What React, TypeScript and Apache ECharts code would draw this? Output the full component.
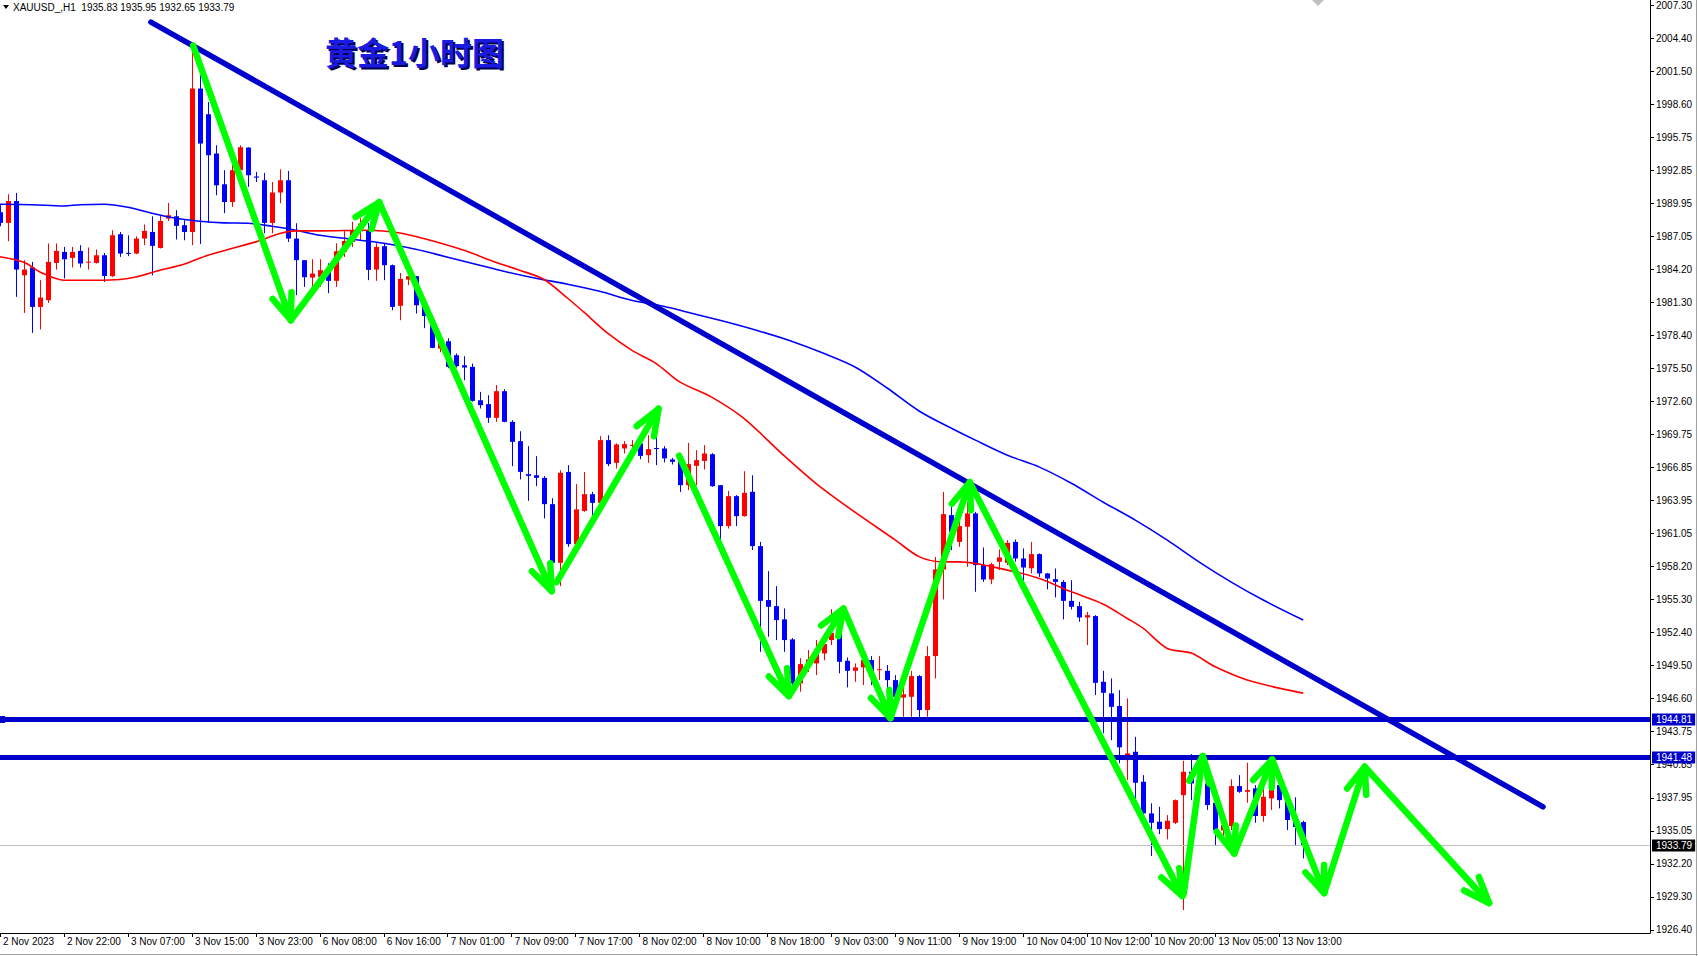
import React, { useEffect, useRef } from 'react';
import * as echarts from 'echarts';

// ---- candle data (H1, bar 0 = 2 Nov 14:00) ----
const opens = [
  1989.17, 1988.24, 1990.16, 1983.66, 1984.34, 1980.89, 1981.48, 1984.74, 1985.70, 1985.18,
  1985.79, 1984.80, 1984.74, 1985.41, 1983.58, 1987.25, 1985.62, 1985.56, 1986.87, 1987.45,
  1986.05, 1988.62, 1988.82, 1988.04, 1987.45, 1999.99, 1997.74, 1994.31, 1991.62, 1990.07,
  1992.85, 1994.83, 1992.30, 1991.97, 1988.24, 1990.90, 1991.97, 1986.87, 1984.98, 1983.46,
  1983.52, 1984.04, 1983.17, 1985.70, 1986.57, 1987.51, 1987.60, 1984.16, 1986.20, 1984.54,
  1980.99, 1983.28, 1983.58, 1981.04, 1979.29, 1977.25, 1977.89, 1976.67, 1975.79, 1975.65,
  1972.73, 1972.39, 1971.19, 1973.52, 1970.84, 1969.15, 1966.26, 1966.17, 1965.94, 1963.64,
  1958.51, 1966.46, 1960.14, 1963.05, 1964.51, 1963.75, 1969.24, 1967.25, 1968.51, 1968.78,
  1968.95, 1967.92, 1968.55, 1968.51, 1967.55, 1967.34, 1965.30, 1966.99, 1967.42, 1968.01,
  1965.30, 1961.72, 1964.34, 1962.59, 1964.72, 1959.97, 1955.25, 1954.72, 1953.56, 1951.81,
  1947.96, 1949.62, 1949.71, 1950.58, 1951.75, 1952.33, 1949.94, 1949.06, 1949.36, 1950.00,
  1949.15, 1949.06, 1948.25, 1946.72, 1946.79, 1948.60, 1945.63, 1950.35, 1957.93, 1962.68,
  1960.34, 1961.66, 1962.83, 1958.31, 1957.05, 1958.60, 1958.51, 1960.34, 1958.89, 1958.03,
  1959.27, 1957.58, 1957.08, 1956.84, 1955.18, 1954.72, 1953.73, 1953.85, 1948.10, 1947.09,
  1945.98, 1941.25, 1941.98, 1939.36, 1936.59, 1935.86, 1935.22, 1935.77, 1938.19, 1940.23,
  1939.60, 1939.21, 1937.52, 1935.10, 1935.48, 1938.98, 1938.48, 1938.78, 1936.36, 1937.90,
  1939.07, 1937.75, 1936.10, 1935.83
];
const highs = [
  1989.79, 1990.75, 1990.86, 1984.98, 1984.83, 1983.23, 1986.44, 1986.44, 1986.14, 1986.14,
  1986.29, 1986.09, 1985.91, 1985.61, 1987.60, 1987.45, 1987.16, 1987.07, 1988.10, 1988.82,
  1988.91, 1989.99, 1989.35, 1988.47, 2003.92, 2001.15, 1998.82, 1995.03, 1992.85, 1993.57,
  1995.03, 1994.86, 1992.70, 1992.61, 1991.82, 1992.93, 1992.78, 1988.21, 1984.98, 1985.06,
  1985.06, 1984.71, 1986.46, 1987.60, 1988.33, 1988.65, 1988.24, 1986.46, 1986.46, 1984.60,
  1983.86, 1983.60, 1983.60, 1981.10, 1980.08, 1978.15, 1978.15, 1976.82, 1976.58, 1975.94,
  1973.46, 1973.17, 1974.05, 1973.70, 1970.98, 1970.02, 1968.71, 1967.84, 1966.09, 1964.16,
  1966.61, 1967.05, 1965.39, 1966.46, 1964.72, 1969.59, 1969.67, 1968.95, 1969.15, 1969.24,
  1969.24, 1969.67, 1969.53, 1968.71, 1967.69, 1967.92, 1969.00, 1968.36, 1968.80, 1968.10,
  1965.30, 1964.80, 1964.43, 1966.52, 1966.17, 1960.34, 1957.78, 1956.47, 1954.52, 1951.92,
  1950.17, 1950.87, 1951.75, 1952.18, 1954.46, 1953.06, 1950.23, 1949.71, 1950.29, 1950.35,
  1950.35, 1949.56, 1948.69, 1947.81, 1949.06, 1948.69, 1951.22, 1959.03, 1964.71, 1963.55,
  1963.40, 1963.84, 1962.97, 1959.85, 1958.51, 1959.68, 1960.49, 1960.55, 1959.77, 1960.34,
  1959.33, 1957.63, 1958.02, 1956.99, 1956.99, 1955.10, 1954.22, 1953.93, 1949.06, 1948.40,
  1947.37, 1946.65, 1943.29, 1939.94, 1937.47, 1937.17, 1936.44, 1937.81, 1941.19, 1941.78,
  1940.40, 1939.50, 1937.75, 1936.20, 1939.57, 1939.94, 1941.02, 1939.07, 1938.87, 1940.14,
  1939.50, 1937.90, 1938.00, 1935.95
];
const lows = [
  1987.95, 1986.64, 1981.77, 1980.37, 1978.62, 1978.92, 1981.24, 1984.16, 1983.38, 1984.34,
  1984.34, 1984.16, 1984.69, 1983.08, 1983.52, 1985.27, 1985.33, 1985.50, 1986.29, 1983.66,
  1986.00, 1988.41, 1986.79, 1986.72, 1986.29, 1986.40, 1988.24, 1990.66, 1989.09, 1989.64,
  1992.41, 1991.39, 1991.82, 1987.34, 1987.34, 1989.96, 1986.57, 1981.92, 1982.64, 1982.09,
  1982.64, 1982.09, 1982.64, 1985.27, 1986.14, 1986.72, 1983.23, 1983.17, 1983.23, 1980.60,
  1979.73, 1982.79, 1980.31, 1979.03, 1977.28, 1976.93, 1975.53, 1975.59, 1974.48, 1972.60,
  1972.01, 1970.75, 1970.84, 1970.80, 1966.96, 1965.80, 1963.93, 1965.21, 1962.39, 1958.45,
  1956.47, 1959.91, 1959.91, 1962.97, 1962.59, 1963.70, 1966.96, 1966.76, 1968.07, 1968.36,
  1967.57, 1967.25, 1967.05, 1967.29, 1967.11, 1964.71, 1964.86, 1965.30, 1966.67, 1965.15,
  1959.33, 1961.51, 1961.72, 1962.55, 1959.62, 1950.72, 1952.04, 1951.75, 1950.72, 1947.23,
  1947.23, 1948.95, 1948.69, 1949.99, 1951.31, 1948.84, 1947.61, 1948.10, 1947.81, 1947.81,
  1948.25, 1947.37, 1946.06, 1945.04, 1945.04, 1944.90, 1945.04, 1948.40, 1955.31, 1959.62,
  1959.91, 1958.16, 1955.97, 1956.84, 1956.64, 1957.87, 1958.31, 1958.60, 1956.93, 1957.58,
  1957.28, 1956.18, 1955.48, 1953.56, 1954.43, 1953.35, 1951.31, 1946.94, 1943.59, 1942.99,
  1940.97, 1939.50, 1937.03, 1935.99, 1932.86, 1934.78, 1934.32, 1935.66, 1928.14, 1937.75,
  1938.40, 1936.90, 1933.82, 1934.60, 1935.13, 1938.39, 1937.52, 1935.77, 1935.86, 1936.88,
  1937.03, 1935.13, 1933.82, 1932.65
];
const closes = [
  1988.24, 1990.16, 1984.16, 1984.16, 1980.89, 1981.71, 1984.83, 1985.79, 1985.06, 1985.70,
  1984.69, 1984.85, 1985.41, 1983.60, 1987.16, 1985.56, 1985.56, 1986.87, 1987.54, 1986.23,
  1988.41, 1988.91, 1987.98, 1987.45, 1999.99, 1995.18, 1994.16, 1991.53, 1990.07, 1992.85,
  1994.86, 1992.41, 1992.20, 1988.24, 1990.90, 1991.97, 1986.87, 1984.98, 1983.49, 1983.81,
  1984.10, 1983.17, 1985.76, 1986.66, 1987.60, 1988.18, 1984.13, 1986.14, 1984.54, 1980.89,
  1983.34, 1983.58, 1981.04, 1980.10, 1977.31, 1977.83, 1975.65, 1975.71, 1975.59, 1972.67,
  1972.30, 1971.19, 1973.52, 1970.84, 1969.09, 1966.46, 1966.11, 1965.94, 1963.64, 1958.51,
  1966.38, 1960.14, 1963.18, 1964.51, 1963.75, 1969.24, 1967.14, 1968.86, 1968.89, 1968.82,
  1967.86, 1968.45, 1968.48, 1967.64, 1967.34, 1965.30, 1967.14, 1967.49, 1968.07, 1965.21,
  1961.72, 1964.34, 1962.59, 1964.63, 1959.97, 1955.18, 1954.66, 1953.50, 1951.75, 1947.96,
  1949.65, 1950.06, 1950.61, 1951.40, 1952.39, 1949.85, 1949.06, 1949.36, 1950.00, 1948.84,
  1949.20, 1948.25, 1946.79, 1947.01, 1948.60, 1945.63, 1950.35, 1957.93, 1962.77, 1961.22,
  1961.72, 1962.83, 1958.31, 1957.05, 1958.39, 1958.98, 1960.25, 1958.89, 1958.10, 1959.27,
  1957.58, 1957.14, 1956.84, 1955.18, 1954.66, 1953.73, 1953.93, 1948.01, 1947.14, 1945.91,
  1942.37, 1941.84, 1939.27, 1936.59, 1935.77, 1935.22, 1935.95, 1937.75, 1940.23, 1939.21,
  1939.20, 1937.32, 1935.13, 1935.57, 1938.98, 1938.48, 1938.63, 1936.36, 1938.04, 1939.07,
  1937.75, 1936.01, 1935.40, 1933.79
];

// ---- axes ----
const xLabels = [
  '2 Nov 2023', '2 Nov 22:00', '3 Nov 07:00', '3 Nov 15:00', '3 Nov 23:00', '6 Nov 08:00',
  '6 Nov 16:00', '7 Nov 01:00', '7 Nov 09:00', '7 Nov 17:00', '8 Nov 02:00', '8 Nov 10:00',
  '8 Nov 18:00', '9 Nov 03:00', '9 Nov 11:00', '9 Nov 19:00', '10 Nov 04:00', '10 Nov 12:00',
  '10 Nov 20:00', '13 Nov 05:00', '13 Nov 13:00'
];
const barsPerXLabel = 8;
const yLabels = [
  '1926.40', '1929.30', '1932.20', '1935.05', '1937.95', '1940.85', '1943.75', '1946.60',
  '1949.50', '1952.40', '1955.30', '1958.20', '1961.05', '1963.95', '1966.85', '1969.75',
  '1972.60', '1975.50', '1978.40', '1981.30', '1984.20', '1987.05', '1989.95', '1992.85',
  '1995.75', '1998.60', '2001.50', '2004.40', '2007.30'
];
const yLabelLow = 1926.40;
const yLabelHigh = 2007.30;

// ---- moving averages ----
const maSlowBars = [0, 4, 8, 10, 13, 16, 19, 22, 25, 28, 31, 34, 37, 40, 44, 48, 52, 56, 60, 63, 67, 71, 75, 79, 83, 87, 91, 95, 99, 103, 107, 111, 115, 119, 122, 126, 130, 134, 138, 142, 146, 150, 154, 158, 163];
const maSlowVals = [1989.87, 1989.83, 1989.72, 1989.83, 1989.87, 1989.61, 1989.09, 1988.65, 1988.39, 1988.24, 1988.21, 1987.95, 1987.60, 1987.16, 1986.81, 1986.46, 1985.94, 1985.24, 1984.54, 1984.01, 1983.40, 1982.88, 1982.26, 1981.48, 1980.95, 1980.25, 1979.55, 1978.77, 1977.89, 1976.84, 1975.62, 1973.78, 1971.77, 1970.28, 1969.24, 1967.92, 1966.88, 1965.47, 1963.81, 1962.24, 1960.49, 1958.57, 1956.82, 1955.25, 1953.50];
const maFastBars = [0, 3, 5, 8, 12, 15, 17, 20, 23, 26, 29, 32, 35, 37, 40, 46, 50, 53, 58, 62, 65, 68, 71, 73, 76, 79, 82, 85, 89, 93, 98, 102, 106, 112, 115, 118, 120, 126, 130, 134, 138, 141, 143, 146, 149, 152, 156, 160, 163];
const maFastVals = [1985.28, 1984.80, 1983.95, 1983.23, 1983.23, 1983.29, 1983.51, 1984.10, 1984.63, 1985.41, 1986.00, 1986.58, 1987.31, 1987.54, 1987.54, 1987.60, 1987.36, 1986.87, 1985.85, 1984.80, 1984.10, 1983.31, 1981.65, 1980.45, 1978.59, 1977.11, 1975.97, 1974.33, 1973.00, 1971.16, 1967.92, 1965.48, 1963.40, 1960.49, 1959.03, 1958.59, 1958.59, 1957.87, 1957.14, 1955.97, 1954.89, 1953.64, 1952.77, 1951.02, 1950.61, 1949.41, 1948.25, 1947.55, 1947.11];

// ---- drawn objects ----
const trendBars = [18.875, 193];
const trendPrices = [2005.81, 1937.17];
const levelPrices = [1944.81, 1941.48];
const lastPrice = 1933.79;
const arrowFromBar = [24.16, 36.375, 47.44, 69.625, 84.94, 98.875, 105.5, 111.375, 121.29, 148.06, 150.44, 154.375, 159.125, 165.625, 170.69];
const arrowFromPrice = [2003.75, 1979.73, 1990.05, 1956.82, 1967.88, 1947.07, 1954.5, 1944.93, 1965.56, 1929.58, 1941.6, 1933.08, 1941.3, 1929.62, 1940.67];
const arrowToBar = [36.375, 47.44, 69.0, 82.375, 98.66, 105.5, 111.375, 121.29, 147.875, 150.44, 154.375, 159.125, 165.625, 170.69, 186.25];
const arrowToPrice = [1979.73, 1990.05, 1956.03, 1971.99, 1946.85, 1954.5, 1944.93, 1965.56, 1929.36, 1941.6, 1933.08, 1941.3, 1929.62, 1940.67, 1928.75];

const headerText = 'XAUUSD_,H1  1935.83 1935.95 1932.65 1933.79';
const titleText = '黄金1小时图';

const FONT = "'Liberation Sans', Arial, sans-serif";
const LEVEL_BLUE = '#0000CD';

export default function App() {
  const ref = useRef<HTMLDivElement>(null);

  useEffect(() => {
    if (!ref.current) return;
    const chart = echarts.init(ref.current, undefined, { renderer: 'svg' });

    const yStep = (yLabelHigh - yLabelLow) / (yLabels.length - 1);
    const yTickVals = yLabels.map((_, k) => yLabelLow + k * yStep);
    const xTickVals = xLabels.map((_, k) => k * barsPerXLabel);

    const candleData = opens.map((o, i) => [i, o, closes[i], lows[i], highs[i]]);
    const arrowData = arrowFromBar.map((b, i) => [b, arrowFromPrice[i], arrowToBar[i], arrowToPrice[i]]);

    const option: any = {
      animation: false,
      backgroundColor: '#ffffff',
      grid: { left: -1, top: 0, width: 1651, height: 933 },
      xAxis: {
        type: 'value',
        min: 0,
        max: 206.375,
        axisLine: { show: true, onZero: false, lineStyle: { color: '#000', width: 1 } },
        axisTick: { show: true, length: 4, customValues: xTickVals, lineStyle: { color: '#000' } },
        axisLabel: {
          customValues: xTickVals,
          formatter: (v: number) => xLabels[Math.round(v / barsPerXLabel)] ?? '',
          align: 'left',
          margin: 3,
          padding: [0, 0, 0, 3],
          fontSize: 10,
          fontFamily: FONT,
          color: '#000',
          hideOverlap: false,
          showMinLabel: true,
          showMaxLabel: true,
        },
        splitLine: { show: false },
      },
      yAxis: {
        type: 'value',
        position: 'right',
        min: 1926.129,
        max: 2007.711,
        axisLine: { show: true, onZero: false, lineStyle: { color: '#000', width: 1 } },
        axisTick: { show: true, length: 4, customValues: yTickVals, lineStyle: { color: '#000' } },
        axisLabel: {
          customValues: yTickVals,
          formatter: (v: number) => yLabels[Math.round((v - yLabelLow) / yStep)] ?? '',
          margin: 6,
          fontSize: 10,
          fontFamily: FONT,
          color: '#000',
          hideOverlap: false,
        },
        splitLine: { show: false },
      },
      series: [
        {
          type: 'custom',
          name: 'candles',
          z: 2,
          data: candleData,
          encode: { x: 0, y: [1, 2, 3, 4] },
          renderItem: (params: any, api: any) => {
            const x = api.value(0);
            const o = api.value(1);
            const c = api.value(2);
            const l = api.value(3);
            const h = api.value(4);
            const pO = api.coord([x, o]);
            const pC = api.coord([x, c]);
            const pL = api.coord([x, l]);
            const pH = api.coord([x, h]);
            const color = c >= o ? '#FF0000' : '#0000FF';
            const cx = Math.round(pO[0]) + 0.5;
            const top = Math.min(pO[1], pC[1]);
            const bot = Math.max(pO[1], pC[1]);
            return {
              type: 'group',
              children: [
                { type: 'line', shape: { x1: cx, y1: pH[1], x2: cx, y2: pL[1] }, style: { stroke: color, lineWidth: 1 } },
                { type: 'rect', shape: { x: cx - 2.5, y: top, width: 5, height: Math.max(bot - top, 1) }, style: { fill: color } },
              ],
            };
          },
        },
        {
          type: 'line',
          name: 'maSlow',
          z: 3,
          data: maSlowBars.map((b, i) => [b, maSlowVals[i]]),
          showSymbol: false,
          smooth: 0.3,
          lineStyle: { color: '#0000FF', width: 1.6 },
        },
        {
          type: 'line',
          name: 'maFast',
          z: 3,
          data: maFastBars.map((b, i) => [b, maFastVals[i]]),
          showSymbol: false,
          smooth: 0.3,
          lineStyle: { color: '#FF0000', width: 1.6 },
        },
        {
          type: 'line',
          name: 'trend',
          z: 4,
          data: trendBars.map((b, i) => [b, trendPrices[i]]),
          showSymbol: false,
          lineStyle: { color: LEVEL_BLUE, width: 5.5, cap: 'round' },
          markLine: {
            silent: true,
            symbol: ['none', 'none'],
            animation: false,
            data: [
              ...levelPrices.map((p) => ({
                yAxis: p,
                lineStyle: { color: LEVEL_BLUE, width: 5, type: 'solid' },
                label: {
                  show: true,
                  position: 'end',
                  distance: 2,
                  formatter: p.toFixed(2),
                  color: '#fff',
                  backgroundColor: LEVEL_BLUE,
                  padding: [1, 3, 1, 4],
                  fontSize: 10,
                  fontFamily: FONT,
                },
              })),
              {
                yAxis: lastPrice,
                lineStyle: { color: '#C0C0C0', width: 1, type: 'solid' },
                label: {
                  show: true,
                  position: 'end',
                  distance: 2,
                  formatter: lastPrice.toFixed(2),
                  color: '#fff',
                  backgroundColor: '#000',
                  padding: [1, 3, 1, 4],
                  fontSize: 10,
                  fontFamily: FONT,
                },
              },
            ],
          },
        },
        {
          type: 'custom',
          name: 'arrows',
          z: 5,
          data: arrowData,
          encode: { x: [0, 2], y: [1, 3] },
          renderItem: (params: any, api: any) => {
            const a = api.coord([api.value(0), api.value(1)]);
            const b = api.coord([api.value(2), api.value(3)]);
            const dx = a[0] - b[0];
            const dy = a[1] - b[1];
            const len = Math.hypot(dx, dy) || 1;
            const ux = dx / len;
            const uy = dy / len;
            const ang = (21 * Math.PI) / 180;
            const L = 28;
            const rot = (t: number) => [
              b[0] + L * (ux * Math.cos(t) - uy * Math.sin(t)),
              b[1] + L * (ux * Math.sin(t) + uy * Math.cos(t)),
            ];
            const style = { stroke: '#00FF00', lineWidth: 6.5, lineCap: 'round', lineJoin: 'round', fill: null };
            return {
              type: 'group',
              children: [
                { type: 'line', shape: { x1: a[0], y1: a[1], x2: b[0], y2: b[1] }, style },
                { type: 'polyline', shape: { points: [rot(ang), b, rot(-ang)] }, style },
              ],
            };
          },
        },
      ],
      graphic: [
        { type: 'polygon', shape: { points: [[3, 5], [9, 5], [6, 9]] }, style: { fill: '#000' } },
        { type: 'text', x: 13, y: 7, style: { text: headerText, font: `10px ${FONT}`, fill: '#000', verticalAlign: 'middle' } },
        { type: 'text', x: 327, y: 53, style: { text: titleText, font: `bold 32px 'Noto Sans CJK SC'`, fill: '#00004A', verticalAlign: 'middle' } },
        { type: 'text', x: 325, y: 51, style: { text: titleText, font: `bold 32px 'Noto Sans CJK SC'`, fill: '#1A1AE0', verticalAlign: 'middle' } },
        { type: 'polygon', shape: { points: [[1312, 0], [1324, 0], [1318, 6]] }, style: { fill: '#C0C0C0' } },
        { type: 'rect', shape: { x: 0, y: 716, width: 5, height: 7 }, style: { fill: LEVEL_BLUE } },
        { type: 'line', shape: { x1: 0, y1: 954.5, x2: 1698, y2: 954.5 }, style: { stroke: '#A0A0A0', lineWidth: 1 } },
        { type: 'line', shape: { x1: 1696.5, y1: 0, x2: 1696.5, y2: 956 }, style: { stroke: '#A0A0A0', lineWidth: 1 } },
      ],
    };

    chart.setOption(option);
    return () => chart.dispose();
  }, []);

  return (
    <div
      ref={ref}
      style={{ position: 'fixed', left: 0, top: 0, width: 1698, height: 956, background: '#fff' }}
    />
  );
}
